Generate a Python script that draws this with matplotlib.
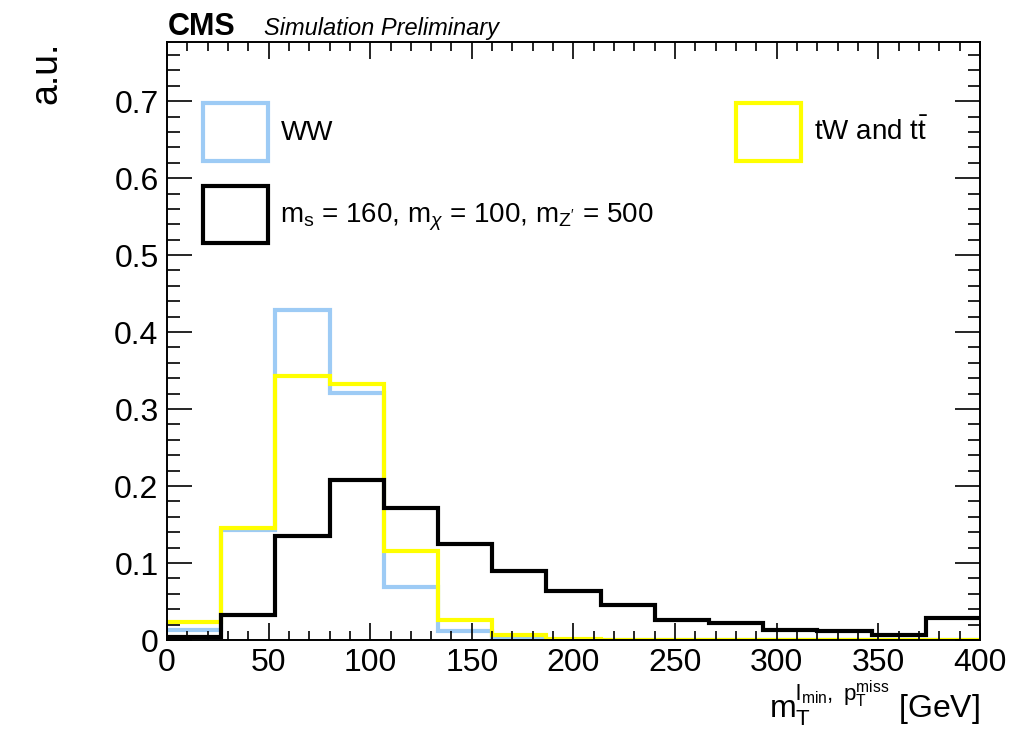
import numpy as np
import matplotlib.pyplot as plt
from matplotlib.patches import Patch
from matplotlib.ticker import MultipleLocator

plt.rcParams["font.family"] = ["Liberation Sans", "DejaVu Sans"]
plt.rcParams["mathtext.fontset"] = "custom"
plt.rcParams["mathtext.rm"] = "Liberation Sans"
plt.rcParams["mathtext.it"] = "Liberation Sans:italic"

# 15 bins from 0 to 400 GeV
bin_edges = np.linspace(0, 400, 16)

ww = [0.013, 0.143, 0.429, 0.321, 0.069, 0.012, 0.002, 0.0, 0.0, 0.0,
      0.0, 0.0, 0.0, 0.0, 0.0]
top = [0.023, 0.146, 0.343, 0.332, 0.116, 0.026, 0.006, 0.001, 0.0, 0.0,
       0.0, 0.0, 0.0, 0.0, 0.0]
signal = [0.004, 0.033, 0.135, 0.208, 0.172, 0.125, 0.090, 0.064, 0.046,
          0.026, 0.022, 0.013, 0.012, 0.007, 0.029]

labels = ["WW", "tW and t$\\bar{\\mathrm{t}}$",
          "m$_{\\mathrm{s}}$ = 160, m$_{\\chi}$ = 100, m$_{\\mathrm{Z'}}$ = 500"]
colors = ["#9dcbf5", "#ffff00", "black"]

fig = plt.figure(figsize=(10.24, 7.34), dpi=100)
ax = fig.add_axes([0.163, 0.128, 0.794, 0.815])

for vals, c in zip([ww, top, signal], colors):
    ax.stairs(vals, bin_edges, baseline=None, color=c, linewidth=3.0)

ax.set_xlim(0, 400)
ax.set_ylim(0, 0.777)

ax.xaxis.set_major_locator(MultipleLocator(50))
ax.xaxis.set_minor_locator(MultipleLocator(10))
ax.yaxis.set_major_locator(MultipleLocator(0.1))
ax.yaxis.set_minor_locator(MultipleLocator(0.02))
ax.tick_params(which="both", direction="in", top=True, right=True, width=1.2)
ax.tick_params(axis="y", which="major", length=18, labelsize=23, pad=6)
ax.tick_params(axis="y", which="minor", length=9)
ax.tick_params(axis="x", which="major", length=12, labelsize=23, pad=6)
ax.tick_params(axis="x", which="minor", length=6.5)
ax.yaxis.set_major_formatter(plt.FuncFormatter(lambda v, p: "0" if v == 0 else f"{v:.1f}"))
for s in ax.spines.values():
    s.set_linewidth(1.4)

ax.set_ylabel("a.u.", fontsize=27, loc="top", labelpad=36)
ax.set_xlabel("m$_{\\mathrm{T}}^{\\mathrm{l}_{\\mathrm{min}},\\ \\mathrm{p}_{\\mathrm{T}}^{\\mathrm{miss}}}$ [GeV]",
              fontsize=23, loc="right", labelpad=0)

fig.text(0.164, 0.952, "CMS", fontsize=22, fontweight="bold", va="baseline")
fig.text(0.258, 0.952, "Simulation Preliminary", fontsize=17, style="italic", va="baseline")

h_ww = Patch(facecolor="none", edgecolor=colors[0], linewidth=3.0)
h_top = Patch(facecolor="none", edgecolor=colors[1], linewidth=3.0)
h_sig = Patch(facecolor="none", edgecolor=colors[2], linewidth=3.0)

leg1 = ax.legend([h_ww, h_sig], [labels[0], labels[2]], loc="upper left",
                 bbox_to_anchor=(0.044, 0.897), frameon=False, fontsize=20,
                 handlelength=2.35, handleheight=2.8, labelspacing=0.9,
                 handletextpad=0.45, borderpad=0, borderaxespad=0)
ax.add_artist(leg1)
ax.legend([h_top], [labels[1]], loc="upper left", bbox_to_anchor=(0.70, 0.897),
          frameon=False, fontsize=20, handlelength=2.35, handleheight=2.8,
          handletextpad=0.45, borderpad=0, borderaxespad=0)

fig.savefig("out.png", dpi=100)
